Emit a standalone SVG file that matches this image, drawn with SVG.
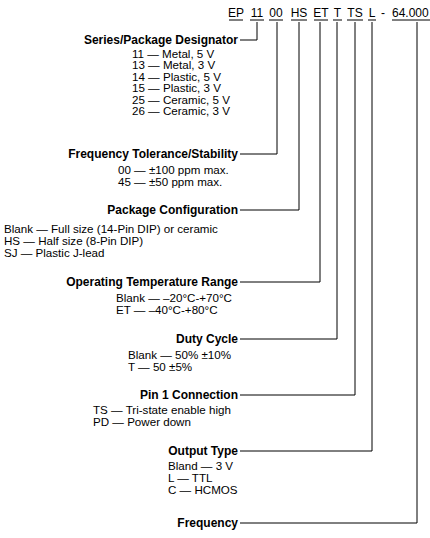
<svg xmlns="http://www.w3.org/2000/svg" width="430" height="538" viewBox="0 0 430 538">
<style>
text{font-family:"Liberation Sans",Arial,sans-serif;font-size:12px;fill:#000}
.i{font-size:11.6px}
.b{font-weight:bold}
.r{text-anchor:end}
.m{text-anchor:middle}
line,polyline{stroke:#000;stroke-width:1;fill:none}
</style>
<rect width="430" height="538" fill="#fff"/>
<g id="header">
<text class="m" x="236" y="17">EP</text>
<text class="m" x="257" y="17">11</text>
<text class="m" x="276" y="17">00</text>
<text class="m" x="299" y="17">HS</text>
<text class="m" x="321" y="17">ET</text>
<text class="m" x="337.5" y="17">T</text>
<text class="m" x="355" y="17">TS</text>
<text class="m" x="372" y="17">L</text>
<text class="m" x="383" y="17">-</text>
<text x="392" y="17">64.000</text>
<line x1="229" y1="20" x2="243" y2="20"/>
<line x1="250" y1="20" x2="264" y2="20"/>
<line x1="269" y1="20" x2="283" y2="20"/>
<line x1="291" y1="20" x2="307" y2="20"/>
<line x1="314" y1="20" x2="328" y2="20"/>
<line x1="333" y1="20" x2="342" y2="20"/>
<line x1="347" y1="20" x2="363" y2="20"/>
<line x1="368" y1="20" x2="376" y2="20"/>
<line x1="392" y1="20" x2="430" y2="20"/>
</g>
<g id="connectors">
<polyline points="257,22 257,40 240,40"/>
<polyline points="277,22 277,154 240,154"/>
<polyline points="299,22 299,210 240,210"/>
<polyline points="320,22 320,282 240,282"/>
<polyline points="337,22 337,339 240,339"/>
<polyline points="355,22 355,395 240,395"/>
<polyline points="372,22 372,451 240,451"/>
<polyline points="417,22 417,523 240,523"/>
</g>
<g id="series">
<text class="b r" x="238" y="44">Series/Package Designator</text>
<text class="i" x="132" y="57.5">11 — Metal, 5 V</text>
<text class="i" x="132" y="69">13 — Metal, 3 V</text>
<text class="i" x="132" y="80.5">14 — Plastic, 5 V</text>
<text class="i" x="132" y="92">15 — Plastic, 3 V</text>
<text class="i" x="132" y="103.5">25 — Ceramic, 5 V</text>
<text class="i" x="132" y="115">26 — Ceramic, 3 V</text>
</g>
<g id="tolerance">
<text class="b r" x="238" y="158">Frequency Tolerance/Stability</text>
<text class="i" x="118" y="174">00 — ±100 ppm max.</text>
<text class="i" x="118" y="186">45 — ±50 ppm max.</text>
</g>
<g id="package">
<text class="b r" x="238" y="214">Package Configuration</text>
<text class="i" x="4" y="233">Blank — Full size (14-Pin DIP) or ceramic</text>
<text class="i" x="4" y="245">HS — Half size (8-Pin DIP)</text>
<text class="i" x="4" y="257">SJ — Plastic J-lead</text>
</g>
<g id="temperature">
<text class="b r" x="238" y="286">Operating Temperature Range</text>
<text class="i" x="116" y="302">Blank — –20°C-+70°C</text>
<text class="i" x="116" y="314">ET — –40°C-+80°C</text>
</g>
<g id="duty">
<text class="b r" x="238" y="343">Duty Cycle</text>
<text class="i" x="128" y="359">Blank — 50% ±10%</text>
<text class="i" x="128" y="371">T — 50 ±5%</text>
</g>
<g id="pin1">
<text class="b r" x="238" y="399">Pin 1 Connection</text>
<text class="i" x="93" y="414">TS — Tri-state enable high</text>
<text class="i" x="93" y="426">PD — Power down</text>
</g>
<g id="output">
<text class="b r" x="238" y="455">Output Type</text>
<text class="i" x="168" y="470">Bland — 3 V</text>
<text class="i" x="168" y="482">L — TTL</text>
<text class="i" x="168" y="494">C — HCMOS</text>
</g>
<g id="frequency">
<text class="b r" x="238" y="527">Frequency</text>
</g>
</svg>
